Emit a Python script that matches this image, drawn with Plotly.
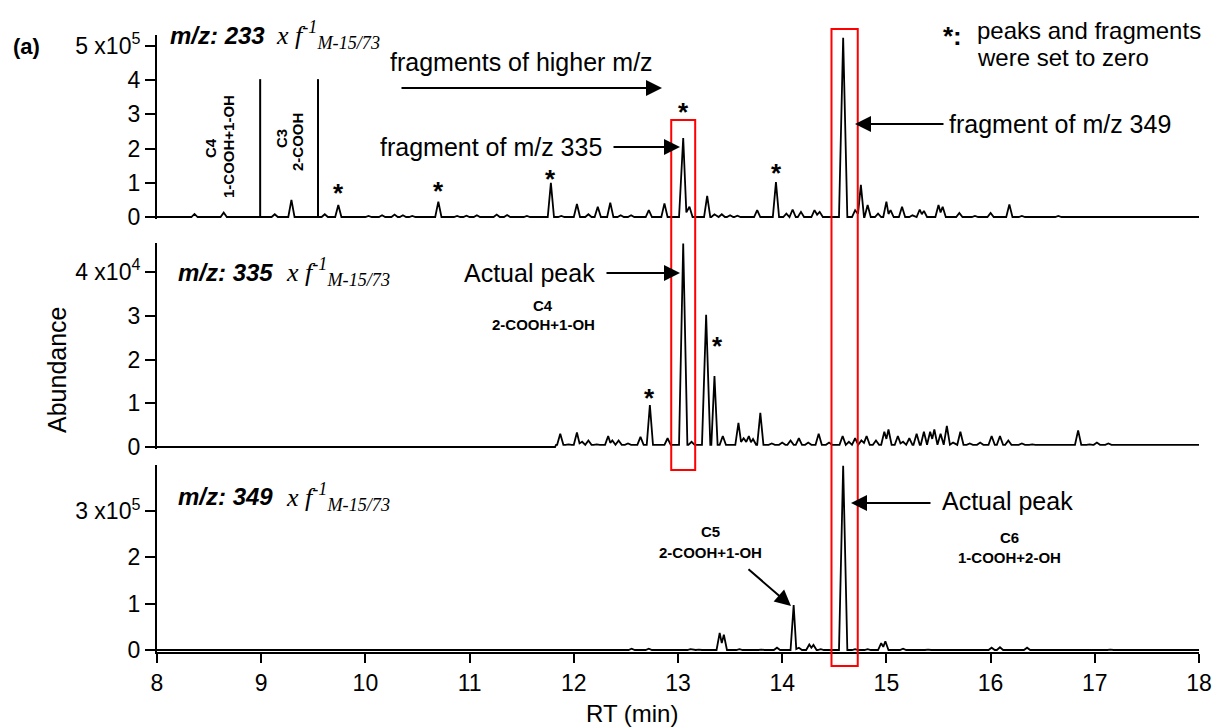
import plotly.graph_objects as go

# ---------------- data ----------------
# retention times (min) and abundances of visible peaks
mz233_rt = [8.14, 8.36, 8.64, 9.13, 9.29, 9.61, 9.74, 9.95, 10.03, 10.16, 10.28, 10.36, 10.45,
            10.70, 10.88, 10.97, 11.07, 11.26, 11.36, 11.55, 11.78, 11.88, 12.03, 12.14, 12.23,
            12.35, 12.45, 12.55, 12.72, 12.87, 13.05, 13.11, 13.28, 13.35, 13.42, 13.50, 13.57,
            13.76, 13.94, 14.04, 14.10, 14.18, 14.31, 14.36, 14.585, 14.70, 14.755, 14.82, 14.92,
            15.00, 15.04, 15.15, 15.25, 15.32, 15.36, 15.50, 15.54, 15.70, 15.85, 16.00, 16.18,
            16.30, 16.65, 16.90, 17.15, 17.65]
mz233_ab = [0.02e5, 0.09e5, 0.13e5, 0.08e5, 0.50e5, 0.08e5, 0.35e5, 0.02e5, 0.03e5, 0.05e5, 0.07e5, 0.05e5, 0.03e5,
            0.45e5, 0.03e5, 0.04e5, 0.05e5, 0.07e5, 0.06e5, 0.03e5, 1.00e5, 0.03e5, 0.38e5, 0.08e5, 0.30e5,
            0.42e5, 0.05e5, 0.05e5, 0.20e5, 0.40e5, 2.31e5, 0.30e5, 0.62e5, 0.08e5, 0.08e5, 0.05e5, 0.04e5,
            0.20e5, 1.02e5, 0.10e5, 0.22e5, 0.15e5, 0.20e5, 0.15e5, 5.24e5, 0.20e5, 0.94e5, 0.35e5, 0.10e5,
            0.45e5, 0.20e5, 0.30e5, 0.05e5, 0.22e5, 0.18e5, 0.35e5, 0.30e5, 0.12e5, 0.03e5, 0.12e5, 0.37e5,
            0.03e5, 0.03e5, 0.02e5, 0.02e5, 0.02e5]

mz335_rt = [11.87, 11.95, 12.03, 12.08, 12.14, 12.22, 12.33, 12.37, 12.43, 12.52, 12.64, 12.73,
            12.90, 13.05, 13.13, 13.27, 13.35, 13.43, 13.58, 13.63, 13.68, 13.72, 13.79, 13.90,
            14.00, 14.08, 14.16, 14.25, 14.35, 14.45, 14.58, 14.64, 14.70, 14.76, 14.81, 14.90,
            14.98, 15.02, 15.11, 15.16, 15.22, 15.29, 15.36, 15.42, 15.46, 15.52, 15.58, 15.64,
            15.71, 15.80, 15.90, 16.01, 16.09, 16.17, 16.30, 16.40, 16.55, 16.70, 16.84, 16.95,
            17.02, 17.13, 17.30, 17.45, 17.60, 17.75, 17.90]
mz335_ab = [0.30e4, 0.06e4, 0.33e4, 0.12e4, 0.15e4, 0.06e4, 0.25e4, 0.15e4, 0.15e4, 0.08e4, 0.23e4, 0.96e4,
            0.20e4, 4.65e4, 0.12e4, 3.02e4, 1.62e4, 0.25e4, 0.55e4, 0.20e4, 0.25e4, 0.18e4, 0.78e4, 0.08e4,
            0.10e4, 0.15e4, 0.20e4, 0.10e4, 0.30e4, 0.10e4, 0.25e4, 0.12e4, 0.20e4, 0.15e4, 0.25e4, 0.15e4,
            0.35e4, 0.40e4, 0.25e4, 0.12e4, 0.20e4, 0.30e4, 0.35e4, 0.35e4, 0.40e4, 0.30e4, 0.48e4, 0.10e4,
            0.35e4, 0.08e4, 0.10e4, 0.25e4, 0.25e4, 0.15e4, 0.08e4, 0.06e4, 0.06e4, 0.06e4, 0.38e4, 0.06e4,
            0.10e4, 0.08e4, 0.06e4, 0.06e4, 0.06e4, 0.06e4, 0.06e4]
mz335_onset = 11.82      # signal is zero before this RT
mz335_base = 0.05e4      # baseline level after onset

mz349_rt = [12.555, 12.72, 12.92, 13.12, 13.20, 13.40, 13.44, 13.59, 13.80, 13.95, 14.11, 14.16,
            14.26, 14.30, 14.37, 14.585, 14.70, 14.82, 14.95, 14.99, 15.16, 15.40, 15.80, 16.01,
            16.09, 16.35, 17.15, 17.30]
mz349_ab = [0.03e5, 0.03e5, 0.01e5, 0.02e5, 0.01e5, 0.37e5, 0.33e5, 0.02e5, 0.01e5, 0.05e5, 0.97e5, 0.05e5,
            0.12e5, 0.11e5, 0.02e5, 3.98e5, 0.02e5, 0.02e5, 0.15e5, 0.19e5, 0.03e5, 0.01e5, 0.01e5, 0.05e5,
            0.06e5, 0.05e5, 0.01e5, 0.01e5]

x_ticks = [8, 9, 10, 11, 12, 13, 14, 15, 16, 17, 18]
y1_ticks = [0, 1e5, 2e5, 3e5, 4e5, 5e5]
y1_text = ["0", "1", "2", "3", "4", "5 x10<sup>5</sup>"]
y2_ticks = [0, 1e4, 2e4, 3e4, 4e4]
y2_text = ["0", "1", "2", "3", "4 x10<sup>4</sup>"]
y3_ticks = [0, 1e5, 2e5, 3e5]
y3_text = ["0", "1", "2", "3 x10<sup>5</sup>"]

divider_rt = [8.99, 9.545]      # vertical separator lines in top panel
divider_top = 4.03e5
star1 = [(9.74, 0.70e5), (10.70, 0.76e5), (11.78, 1.11e5), (13.05, 3.07e5), (13.95, 1.29e5), (14.59, 5.64e5)]
star2 = [(12.73, 1.12e4), (13.38, 2.31e4)]
box1_rt = (12.935, 13.165)
box2_rt = (14.473, 14.725)

# ---------------- geometry ----------------
W, H = 1212, 728
ML, MR, MT, MB = 157, 13, 30, 76
PW, PH = W - ML - MR, H - MT - MB


def PX(x):
    return (x - ML) / PW


def PY(y):
    return (H - MB - y) / PH


def build(rts, abs_, base_fn, lead=None, hw_small=0.03, hw_big=0.04):
    xs, ys = [8.0], [base_fn(8.0)]
    if lead:
        for lx in lead:
            xs.append(lx); ys.append(base_fn(lx - 1e-6))
    prev = None
    ymax = max(abs_)
    for rt, h in zip(rts, abs_):
        hw = hw_big if h > 0.4 * ymax else hw_small
        b = base_fn(rt)
        if prev is not None and rt - hw < prev[0] + prev[2]:
            xs[-1] = (prev[0] + rt) / 2
            ys[-1] = b + 0.45 * min(prev[1] - b, h - b)
        else:
            xs.append(rt - hw); ys.append(b)
        xs.append(rt); ys.append(h)
        xs.append(rt + hw); ys.append(b)
        prev = (rt, h, hw)
    xs.append(18.0); ys.append(base_fn(18.0))
    return xs, ys


x1, y1 = build(mz233_rt, mz233_ab, lambda r: 0.0)
x2, y2 = build(mz335_rt, mz335_ab, lambda r: 0.0 if r < mz335_onset else mz335_base, lead=[mz335_onset, mz335_onset + 0.01])
x3, y3 = build(mz349_rt, mz349_ab, lambda r: 0.0)

FONT = "Liberation Sans, Arial, sans-serif"
SERIF = "Liberation Serif, Times New Roman, serif"
line = dict(color="black", width=1.8)

fig = go.Figure()
fig.add_trace(go.Scatter(x=x1, y=y1, mode="lines", line=line, xaxis="x", yaxis="y", hoverinfo="skip"))
fig.add_trace(go.Scatter(x=x2, y=y2, mode="lines", line=line, xaxis="x2", yaxis="y2", hoverinfo="skip"))
fig.add_trace(go.Scatter(x=x3, y=y3, mode="lines", line=line, xaxis="x3", yaxis="y3", hoverinfo="skip"))

hidden_x = dict(range=[8, 18], domain=[0, 1], showline=False, showticklabels=False, ticks="",
                showgrid=False, zeroline=False, automargin=False)
yax = dict(showline=True, linewidth=2, linecolor="black", ticks="outside", ticklen=10, tickwidth=2,
           tickcolor="black", showgrid=False, zeroline=False, automargin=False,
           tickfont=dict(size=23, family=FONT, color="black"))


def dom(top_px, bot_px):
    return [PY(bot_px), PY(top_px)]


fig.update_layout(
    width=W, height=H, margin=dict(l=ML, r=MR, t=MT, b=MB, autoexpand=False),
    paper_bgcolor="white", plot_bgcolor="white", showlegend=False,
    font=dict(family=FONT, color="black"),
    xaxis=dict(hidden_x, anchor="y"),
    xaxis2=dict(hidden_x, anchor="y2"),
    xaxis3=dict(range=[8, 18], domain=[0, 1], anchor="y3", showline=True, linewidth=2, linecolor="black",
                ticks="outside", ticklen=9, tickwidth=2, tickcolor="black", tickvals=x_ticks, automargin=False,
                showgrid=False, zeroline=False, tickfont=dict(size=23, family=FONT, color="black")),
    yaxis=dict(yax, domain=dom(35, 219), range=[-0.058e5, 5.32e5], tickvals=y1_ticks, ticktext=y1_text, anchor="x"),
    yaxis2=dict(yax, domain=dom(243, 449), range=[-0.046e4, 4.663e4], tickvals=y2_ticks, ticktext=y2_text, anchor="x2"),
    yaxis3=dict(yax, domain=dom(465, 652), range=[-0.043e5, 3.996e5], tickvals=y3_ticks, ticktext=y3_text, anchor="x3"),
)

shapes = []
for r in divider_rt:
    shapes.append(dict(type="line", xref="x", yref="y", x0=r, x1=r, y0=0, y1=divider_top,
                       line=dict(color="black", width=2)))
shapes.append(dict(type="rect", xref="x", yref="paper", x0=box1_rt[0], x1=box1_rt[1], y0=PY(470), y1=PY(120),
                   line=dict(color="red", width=2)))
shapes.append(dict(type="rect", xref="x", yref="paper", x0=box2_rt[0], x1=box2_rt[1], y0=PY(666), y1=PY(29),
                   line=dict(color="red", width=2)))
fig.update_layout(shapes=shapes)

ann = []


def text(t, x, y, size=25, xa="center", ya="middle", angle=0, bold=False, family=FONT):
    if bold:
        t = "<b>" + t + "</b>"
    ann.append(dict(text=t, x=PX(x), y=PY(y), xref="paper", yref="paper", xanchor=xa, yanchor=ya,
                    showarrow=False, textangle=angle, font=dict(size=size, family=family, color="black")))


def arrow(tx, ty, hx, hy):
    ann.append(dict(text="", x=PX(hx), y=PY(hy), xref="paper", yref="paper", ax=tx - hx, ay=ty - hy,
                    showarrow=True, arrowhead=2, arrowsize=1.6, arrowwidth=2, arrowcolor="black",
                    font=dict(size=12, family=FONT, color="black")))


def mzlabel(mz, x, y, x2):
    text("<i>m/z: %s</i>" % mz, x, y, size=24, xa="left", bold=True)
    text("<i>x f</i><sup><i>-1</i></sup><sub><i>M-15/73</i></sub>", x2, y, size=26, xa="left", family=SERIF)


# star annotations in data coordinates
for r, v in star1:
    ann.append(dict(text="<b>*</b>", x=r, y=v, xref="x", yref="y", showarrow=False, yanchor="middle",
                    font=dict(size=26, family=FONT, color="black")))
for r, v in star2:
    ann.append(dict(text="<b>*</b>", x=r, y=v, xref="x2", yref="y2", showarrow=False, yanchor="middle",
                    font=dict(size=26, family=FONT, color="black")))

text("(a)", 26, 47, size=22, bold=True)
mzlabel("233", 168, 35, 274)
mzlabel("335", 176, 272, 284)
mzlabel("349", 176, 497, 284)

text("fragments of higher m/z", 521, 62)
arrow(400, 88, 662, 88)
text("fragment of m/z 335", 604, 147, xa="right")
arrow(612, 147, 680, 147)
text("fragment of m/z 349", 947, 124, xa="left")
arrow(945, 124, 855, 124)
text("<b>*:</b>", 952, 36, size=26)
text("peaks and fragments", 975, 30, size=24, xa="left")
text("were set to zero", 975, 57, size=24, xa="left")

text("C4", 210, 148, size=15, angle=-90, bold=True)
text("1-COOH+1-OH", 228, 147, size=15, angle=-90, bold=True)
text("C3", 281, 139, size=15, angle=-90, bold=True)
text("2-COOH", 297, 142, size=15, angle=-90, bold=True)

text("Actual peak", 597, 273, xa="right")
arrow(605, 273, 680, 273)
text("C4", 543, 305, size=15, bold=True)
text("2-COOH+1-OH", 543, 324, size=15, bold=True)

text("Actual peak", 940, 501, xa="left")
arrow(932, 503, 851, 503)
text("C5", 710, 531, size=15, bold=True)
text("2-COOH+1-OH", 710, 552, size=15, bold=True)
arrow(747, 568, 791, 606)
text("C6", 1009, 537, size=15, bold=True)
text("1-COOH+2-OH", 1009, 557, size=15, bold=True)

text("Abundance", 57, 370, size=25, angle=-90)
text("RT (min)", 632, 713, size=24)

fig.update_layout(annotations=ann)
fig.write_html("out.html", config={"displayModeBar": False},
               post_script="document.body.style.margin='0';document.body.style.overflow='hidden';")
